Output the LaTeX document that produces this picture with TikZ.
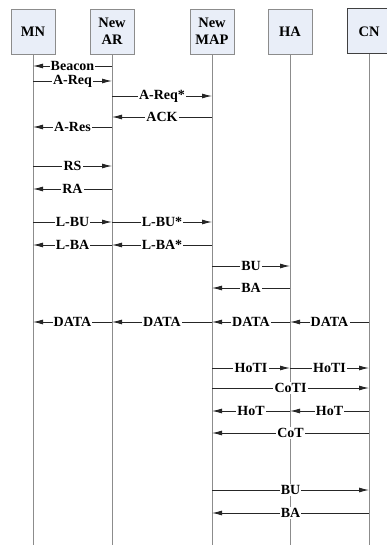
\documentclass[tikz,border=0pt]{standalone}
\usepackage{fontspec}
\setmainfont{Liberation Serif}
\usetikzlibrary{arrows.meta}

\definecolor{boxfill}{HTML}{E9EEF8}
\definecolor{lifegray}{HTML}{8C8C8C}

\tikzset{
	entity/.style={draw=lifegray, fill=boxfill, line width=0.8pt, minimum width=44pt, minimum height=45pt, inner sep=0pt, align=center, font=\fontsize{14.5}{17}\selectfont\bfseries},
	lifeline/.style={draw=lifegray, line width=0.8pt},
	msg/.style={draw=black!85, line width=0.9pt, -{Latex[length=10pt,width=5pt]}},
	msglabel/.style={fill=white, inner sep=1.2pt, font=\fontsize{14}{16}\selectfont\bfseries}
}

\begin{document}
\begin{tikzpicture}[x=1pt,y=-1pt]
		\clip (0,0) rectangle (387,545);
		
		% Define the entities on top
		\node[entity] (mn) at (33,31.5) {MN};
		\node[entity] (ar) at (112,31.5) {New\\AR};
		\node[entity] (map) at (212,31.5) {New\\MAP};
		\node[entity] (ha) at (290,31.5) {HA};
		\node[entity, draw=black!75, line width=1pt] (cn) at (369,31.5) {CN};
		
		% Define the ends of the lifelines
		\coordinate (mn-end) at (33,545);
		\coordinate (ar-end) at (112,545);
		\coordinate (map-end) at (212,545);
		\coordinate (ha-end) at (290,545);
		\coordinate (cn-end) at (369,545);
		
		% Draw the lifelines
		\draw[lifeline] (mn) -- (mn-end);
		\draw[lifeline] (ar) -- (ar-end);
		\draw[lifeline] (map) -- (map-end);
		\draw[lifeline] (ha) -- (ha-end);
		\draw[lifeline] (cn) -- (cn-end);
		
		% Attach to the new access router
		\draw[msg] (ar |- 0,66) -- node[msglabel] {Beacon} (mn |- 0,66);
		\draw[msg] (mn |- 0,81) -- node[msglabel] {A-Req} (ar |- 0,81);
		\draw[msg] (ar |- 0,96) -- node[msglabel] {A-Req*} (map |- 0,96);
		\draw[msg] (map |- 0,117) -- node[msglabel] {ACK} (ar |- 0,117);
		\draw[msg] (ar |- 0,127) -- node[msglabel] {A-Res} (mn |- 0,127);
		
		% Router discovery
		\draw[msg] (mn |- 0,166) -- node[msglabel] {RS} (ar |- 0,166);
		\draw[msg] (ar |- 0,189) -- node[msglabel] {RA} (mn |- 0,189);
		
		% Local binding update
		\draw[msg] (mn |- 0,222) -- node[msglabel] {L-BU} (ar |- 0,222);
		\draw[msg] (ar |- 0,222) -- node[msglabel] {L-BU*} (map |- 0,222);
		\draw[msg] (ar |- 0,245) -- node[msglabel] {L-BA} (mn |- 0,245);
		\draw[msg] (map |- 0,245) -- node[msglabel] {L-BA*} (ar |- 0,245);
		
		% Binding update to the home agent
		\draw[msg] (map |- 0,266) -- node[msglabel] {BU} (ha |- 0,266);
		\draw[msg] (ha |- 0,288) -- node[msglabel] {BA} (map |- 0,288);
		
		% Data towards the mobile node
		\draw[msg] (cn |- 0,322) -- node[msglabel] {DATA} (ha |- 0,322);
		\draw[msg] (ha |- 0,322) -- node[msglabel] {DATA} (map |- 0,322);
		\draw[msg] (map |- 0,322) -- node[msglabel] {DATA} (ar |- 0,322);
		\draw[msg] (ar |- 0,322) -- node[msglabel] {DATA} (mn |- 0,322);
		
		% Return routability
		\draw[msg] (map |- 0,368) -- node[msglabel] {HoTI} (ha |- 0,368);
		\draw[msg] (ha |- 0,368) -- node[msglabel] {HoTI} (cn |- 0,368);
		\draw[msg] (map |- 0,388) -- node[msglabel] {CoTI} (cn |- 0,388);
		\draw[msg] (cn |- 0,411) -- node[msglabel] {HoT} (ha |- 0,411);
		\draw[msg] (ha |- 0,411) -- node[msglabel] {HoT} (map |- 0,411);
		\draw[msg] (cn |- 0,433) -- node[msglabel] {CoT} (map |- 0,433);
		
		% Binding update to the correspondent node
		\draw[msg] (map |- 0,490) -- node[msglabel] {BU} (cn |- 0,490);
		\draw[msg] (cn |- 0,513) -- node[msglabel] {BA} (map |- 0,513);
		
	\end{tikzpicture}
\end{document}
